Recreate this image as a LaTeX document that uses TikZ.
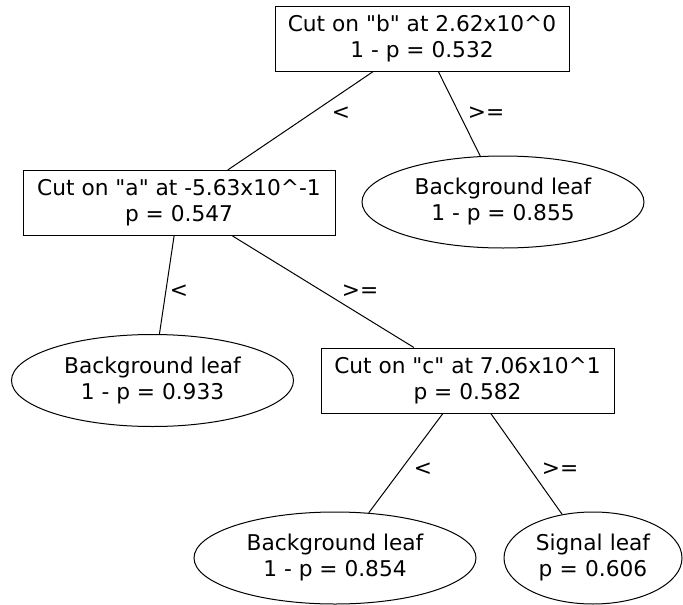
\documentclass[tikz,border=0pt]{standalone}
\usepackage{fontspec}
\setmainfont{DejaVu Sans}
\usetikzlibrary{shapes.geometric}

\begin{document}
\begin{tikzpicture}[
		x=1pt, y=-1pt,
		every node/.style={align=center, inner sep=0pt, font=\fontsize{21.7pt}{26pt}\selectfont},
		cut/.style={rectangle, draw, line width=1pt, minimum height=65pt},
		leaf/.style={ellipse, draw, line width=1pt, minimum width=282pt, minimum height=92pt},
		every edge/.append style={line width=1pt}
	]
  \useasboundingbox (0,0) rectangle (683,605);
  \node (cut_b) [cut, minimum width=294pt] at (422, 38.5) {Cut on \textquotedbl b\textquotedbl{} at 2.62x10\textasciicircum 0\\1 - p = 0.532};
  \node (cut_a) [cut, minimum width=312pt] at (179, 203) {Cut on \textquotedbl a\textquotedbl{} at -5.63x10\textasciicircum -1\\p = 0.547};
  \node (cut_c) [cut, minimum width=293pt] at (467.5, 380.5) {Cut on \textquotedbl c\textquotedbl{} at 7.06x10\textasciicircum 1\\p = 0.582};
  \node (bkg_1) [leaf] at (503, 202) {Background leaf\\1 - p = 0.855};
  \node (bkg_2) [leaf] at (152.5, 380.5) {Background leaf\\1 - p = 0.933};
  \node (bkg_3) [leaf] at (335, 558) {Background leaf\\1 - p = 0.854};
  \node (sig_1) [leaf, minimum width=178pt, text width=118pt] at (593, 558) {Signal leaf\\p = 0.606};
  \node (lt_b) at (341, 113) {<};
  \node (ge_b) at (486, 113) {>=};
  \node (lt_a) at (179, 291) {<};
  \node (ge_a) at (360, 291) {>=};
  \node (lt_c) at (423, 469) {<};
  \node (ge_c) at (560, 469) {>=};
  \draw (cut_b) edge (cut_a);
  \draw (cut_b) edge (bkg_1);
  \draw (cut_a) edge (bkg_2);
  \draw (cut_a) edge (cut_c);
  \draw (cut_c) edge (bkg_3);
  \draw (cut_c) edge (sig_1);
\end{tikzpicture}
\end{document}
